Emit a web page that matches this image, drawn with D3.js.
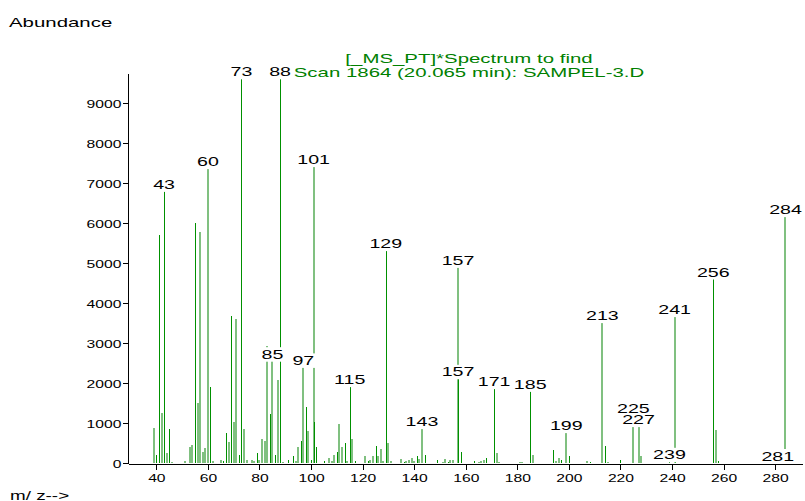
<!DOCTYPE html>
<html><head><meta charset="utf-8">
<script src="https://cdn.jsdelivr.net/npm/d3@7"></script>
<style>body{margin:0;background:#fff} svg{display:block} text{font-family:"Liberation Sans",Arial,sans-serif}</style>
</head><body><svg id="c" width="805" height="501"></svg>
<script>
// ---- data ----
const darkMz  = [40,41,43,45,55,61,66,67,69,72,73,79,84,86,88,91,93,96,98,100,101,102,105,110,113,115,117,122,125,129,136,141,144,149,153,157,158,163,168,171,185,194,197,200,208,214,220,239,241,256,258,281];
const darkVal = [200,5710,6810,860,6015,1915,50,750,3680,215,9625,250,1230,215,9625,95,175,560,1410,95,1025,420,50,275,520,1930,55,50,440,5330,40,190,205,75,40,2125,275,50,145,1880,1810,325,75,175,40,440,75,50,30,4620,55,20];
const lightMz  = [39,42,44,46,51,53,54,56,57,58,59,60,62,65,68,70,71,74,75,77,78,80,81,82,83,85,87,89,94,95,97,99,101,107,108,109,111,112,114,116,121,123,124,126,127,128,130,131,135,137,138,139,140,142,143,151,152,154,155,157,165,166,167,172,173,181,182,186,195,196,199,207,213,215,225,227,228,241,257,284];
const lightVal = [890,1260,260,30,50,420,465,1510,5780,275,390,7380,70,95,535,1030,3615,860,95,75,50,75,615,555,2940,2565,2080,30,65,400,2410,810,7430,130,65,215,975,400,65,615,185,95,175,185,365,65,505,50,120,50,95,145,70,115,880,40,105,75,75,4910,40,65,75,255,30,40,40,215,65,145,780,65,3530,30,930,930,180,3680,830,6180];
const darkLabels  = [43,73,88,115,129,157,171,185,239,256,281];
const lightLabels = [60,85,97,101,143,157,199,213,225,227,241,284];
const xTicks = [40,60,80,100,120,140,160,180,200,220,240,260,280];
const yTicks = [0,1000,2000,3000,4000,5000,6000,7000,8000,9000];
const titleLines = ["[_MS_PT]*Spectrum to find", "Scan 1864 (20.065 min): SAMPEL-3.D"];
const yTitle = "Abundance";
const xTitle = "m/ z-->";

// ---- drawing ----
const DARK = "#008000", LIGHT = "#80c080", SX = 1.57;
const svg = d3.select("#c");
const x = d3.scaleLinear().domain([29.2, 290.4]).range([128.5, 802]);
const y = d3.scaleLinear().domain([0, 9750]).range([463.3, 73.3]);

function stext(g, str, px, py, size, anchor, fill) {
  return g.append("text")
    .attr("transform", `translate(${px},${py}) scale(${SX},1)`)
    .attr("text-anchor", anchor).attr("font-size", size).attr("fill", fill).text(str);
}

// axes
const yMinor = d3.range(0, 9751, 250).filter(v => v % 1000 !== 0);
const xMinor = d3.range(30, 291, 5).filter(v => v % 20 !== 0);
const gy = svg.append("g").attr("transform", "translate(127.5,0)");
gy.call(d3.axisLeft(y).tickValues(yMinor).tickSize(3).tickSizeOuter(0).tickFormat(""));
gy.call(d3.axisLeft(y).tickValues(yTicks).tickSize(5).tickSizeOuter(0).tickFormat(d3.format("d")));
gy.selectAll("text").attr("font-size", 10).attr("x", null).attr("dy", null)
  .attr("transform", "translate(-6,4.5) scale(" + SX + ",1)").attr("fill", "#000");
const gx = svg.append("g").attr("transform", "translate(0,463.5)");
gx.call(d3.axisBottom(x).tickValues(xMinor).tickSize(3).tickSizeOuter(0).tickFormat(""));
gx.call(d3.axisBottom(x).tickValues(xTicks).tickSize(6).tickSizeOuter(0).tickFormat(d3.format("d")));
gx.selectAll("text").attr("font-size", 10).attr("y", null).attr("dy", null)
  .attr("transform", "translate(0,18) scale(" + SX + ",1)").attr("fill", "#000");
svg.selectAll(".domain, .tick line").attr("stroke", "#000").attr("shape-rendering", "crispEdges");

// spectra
const light = lightMz.map((m, i) => ({m, v: lightVal[i]}));
const dark = darkMz.map((m, i) => ({m, v: darkVal[i]}));
svg.append("g").selectAll("line").data(light).join("line")
  .attr("x1", d => x(d.m)).attr("x2", d => x(d.m))
  .attr("y1", y(0)).attr("y2", d => y(d.v))
  .attr("stroke", LIGHT).attr("stroke-width", 2).attr("shape-rendering", "crispEdges");
svg.append("g").selectAll("line").data(dark).join("line")
  .attr("x1", d => x(d.m) + 0.5).attr("x2", d => x(d.m) + 0.5)
  .attr("y1", y(0)).attr("y2", d => y(d.v))
  .attr("stroke", "#009000").attr("stroke-width", 1).attr("shape-rendering", "crispEdges");

// peak labels (white-backed, stacked upward on collision)
const labs = [];
darkLabels.forEach(m => labs.push({m, v: darkVal[darkMz.indexOf(m)]}));
lightLabels.forEach(m => labs.push({m, v: lightVal[lightMz.indexOf(m)]}));
labs.sort((a, b) => b.m - a.m);
const gBox = svg.append("g");
const gTxt = svg.append("g");
const placed = [];
labs.forEach(L => {
  const t = stext(gTxt, String(L.m), 0, 0, 12.5, "middle", "#000");
  const w = t.node().getComputedTextLength() * SX;
  const cx = x(L.m);
  let base = y(L.v) - 2;
  let moved = true;
  while (moved) {
    moved = false;
    for (const p of placed) {
      if (Math.abs(p.cx - cx) < (p.w + w) / 2 && Math.abs(p.base - base) < 11.5) {
        base = p.base - 11.5; moved = true;
      }
    }
  }
  placed.push({cx, w, base});
  t.attr("transform", `translate(${cx},${base}) scale(${SX},1)`);
  gBox.append("rect")
    .attr("x", cx - w / 2 - 1).attr("y", base - 11.5).attr("width", w + 2).attr("height", 14.5)
    .attr("fill", "#fff");
});

// titles
stext(svg, yTitle, 9, 26.5, 13, "start", "#000");
stext(svg, titleLines[0], 469, 63, 13, "middle", DARK);
stext(svg, titleLines[1], 469, 76.5, 13, "middle", DARK);
stext(svg, xTitle, 10, 499.5, 13, "start", "#000").attr("transform", "translate(10,499.5) scale(1.45,1)");
</script></body></html>
